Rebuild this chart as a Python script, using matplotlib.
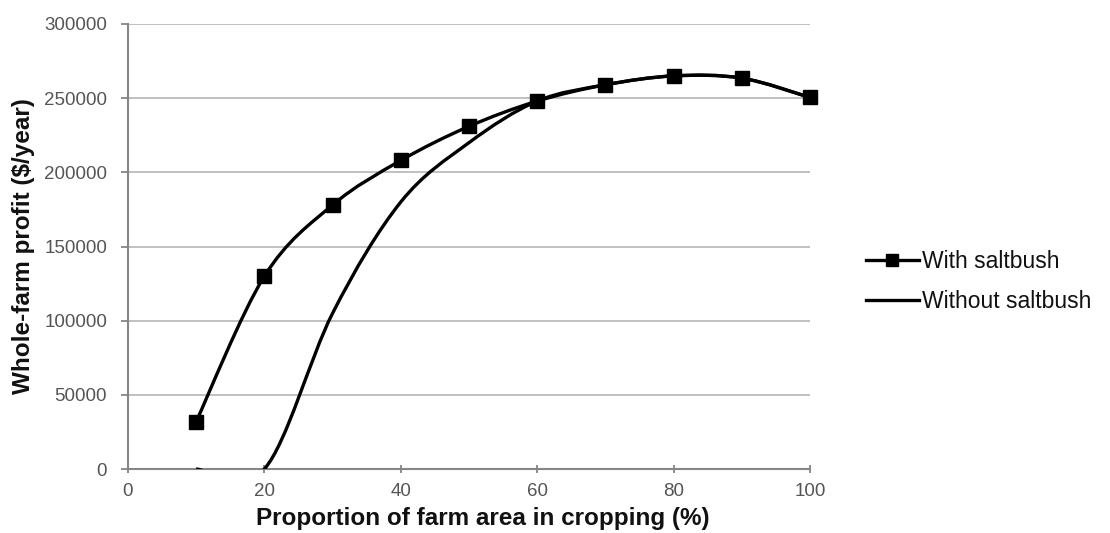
import numpy as np
import matplotlib
matplotlib.use("Agg")
import matplotlib.pyplot as plt
from matplotlib.path import Path
from matplotlib.patches import PathPatch
from matplotlib.lines import Line2D

plt.rcParams['font.family'] = ['Liberation Sans', 'DejaVu Sans']

# data
crop_pct = [10, 20, 30, 40, 50, 60, 70, 80, 90, 100]
with_saltbush = [32000, 130000, 178000, 208000, 231000, 248000, 259000, 265000, 263500, 250500]
without_saltbush = [0, 0, 105000, 180000, 220000, 248000, 259000, 265000, 263500, 250500]

y_ticks = [0, 50000, 100000, 150000, 200000, 250000, 300000]
x_ticks = [0, 20, 40, 60, 80, 100]


def smooth_path(xs, ys):
    """Excel-style smoothed line as Catmull-Rom -> cubic bezier path."""
    pts = np.column_stack([xs, ys]).astype(float)
    verts = [pts[0]]
    codes = [Path.MOVETO]
    n = len(pts)
    for i in range(n - 1):
        p0 = pts[i - 1] if i > 0 else pts[i]
        p1 = pts[i]
        p2 = pts[i + 1]
        p3 = pts[i + 2] if i + 2 < n else pts[i + 1]
        c1 = p1 + (p2 - p0) / 6.0
        c2 = p2 - (p3 - p1) / 6.0
        verts += [c1, c2, p2]
        codes += [Path.CURVE4] * 3
    return Path(verts, codes)


fig = plt.figure(figsize=(11.1, 5.33), dpi=100)
ax = fig.add_axes([0.1153, 0.12, 0.6144, 0.835])

grid_col = '#c0c0c0'
axis_col = '#868686'

for yv in y_ticks[1:]:
    ax.axhline(yv, color=grid_col, linewidth=1.4, zorder=1)

ax.add_patch(PathPatch(smooth_path(crop_pct, without_saltbush), facecolor='none',
                       edgecolor='black', linewidth=2.4, zorder=3))
ax.add_patch(PathPatch(smooth_path(crop_pct, with_saltbush), facecolor='none',
                       edgecolor='black', linewidth=2.4, zorder=3))
ax.plot(crop_pct, with_saltbush, linestyle='none', marker='s', markersize=9.5,
        color='black', zorder=4, clip_on=False)

ax.set_xlim(0, 100)
ax.set_ylim(0, 300000)
ax.set_xticks(x_ticks)
ax.set_yticks(y_ticks)
ax.set_yticklabels([str(v) for v in y_ticks])

for s in ['top', 'right']:
    ax.spines[s].set_visible(False)
for s in ['left', 'bottom']:
    ax.spines[s].set_color(axis_col)
    ax.spines[s].set_linewidth(1.5)
ax.tick_params(axis='both', colors=axis_col, length=5, width=1.3,
               labelsize=13.5, labelcolor='#555555')
ax.tick_params(axis='x', direction='inout', length=6, pad=7)
ax.tick_params(axis='y', pad=10)

ax.set_xlabel('Proportion of farm area in cropping (%)', fontsize=17.5,
              fontweight='bold', color='#111111', labelpad=3)
ax.xaxis.set_label_coords(0.52, -0.085)
ax.set_ylabel('Whole-farm profit ($/year)', fontsize=17.5,
              fontweight='bold', color='#111111', labelpad=8)
ax.yaxis.set_label_coords(-0.137, 0.5)

handles = [
    Line2D([], [], color='black', linewidth=2.4, marker='s', markersize=9),
    Line2D([], [], color='black', linewidth=2.4),
]
fig.legend(handles, ['With saltbush', 'Without saltbush'], loc='center left',
           bbox_to_anchor=(0.772, 0.472), frameon=False, fontsize=16.5,
           handlelength=2.3, handletextpad=0.15, labelspacing=0.75,
           labelcolor='#111111', borderaxespad=0)

fig.savefig('out.png', dpi=100)
